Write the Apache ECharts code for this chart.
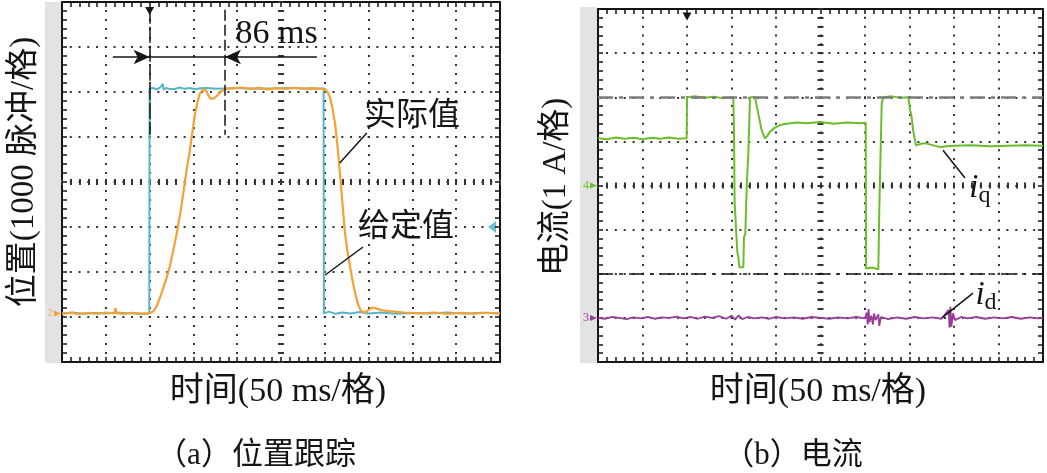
<!DOCTYPE html>
<html><head><meta charset="utf-8">
<script src="https://cdn.jsdelivr.net/npm/echarts@6/dist/echarts.min.js"></script>
<style>html,body{margin:0;padding:0;background:#fff}#c{width:1047px;height:473px}</style>
</head><body><div id="c"></div>
<script>
// ---- data (read from the oscilloscope screens) ----
const timeRange = [0, 500];          // ms, 50 ms/div, 10 div
const posRange = [-4000, 4000];      // pulses relative to screen centre, 1000 pulses/div
const curRange = [-4, 4];            // A, 1 A/div

// (a) position tracking: [time ms, position pulses]
const setpointA = [[0,-2920],[12,-2900],[25,-2930],[38,-2910],[50,-2925],[62,-2900],[75,-2915],[88,-2930],[99.6,-2920],
  [100,2080],[104,2090],[108,2060],[112,2100],[115,2180],[116,2050],[119,2090],[122,2070],[128,2060],[134,2100],[140,2070],
  [146,2090],[152,2060],[158,2085],[166,2090],[176,2070],[186,2080],[200,2090],[220,2070],[240,2080],[260,2090],[280,2070],[298.6,2080],
  [299,-2920],[305,-2880],[312,-2930],[320,-2900],[330,-2920],[340,-2890],[350,-2920],[365,-2900],[380,-2930],[400,-2910],
  [420,-2920],[440,-2900],[460,-2925],[480,-2905],[500,-2920]];
const actualA = [[0,-2930],[10,-2910],[20,-2935],[30,-2905],[40,-2925],[50,-2900],[60,-2920],[61,-2800],[62,-2915],[70,-2930],
  [80,-2905],[90,-2925],[99,-2920],[100,-2900],[104,-2880],[108,-2770],[112,-2560],[116,-2330],[120,-2090],[123,-1880],
  [127,-1520],[131,-1140],[135,-700],[138.5,-250],[142,230],[146,710],[149,1130],[152,1530],[155,1800],[157.5,1970],
  [161,2060],[163,2080],[165,2020],[167,1930],[169,1860],[171,1840],[173,1850],[176,1900],[180,1980],[183,2030],[186,2070],
  [195,2080],[205,2100],[215,2070],[225,2090],[235,2060],[245,2085],[255,2070],[265,2095],[275,2075],[285,2085],[295,2070],
  [300,2070],[303,2000],[306,1880],[309,1620],[312,1260],[315,700],[319,-200],[323,-1130],[326,-1560],[329,-1900],
  [332,-2230],[335,-2500],[338,-2720],[341,-2860],[344,-2900],[347,-2880],[351,-2830],[355,-2790],[360,-2820],[366,-2850],
  [372,-2870],[380,-2880],[390,-2900],[400,-2910],[412,-2920],[425,-2900],[440,-2930],[455,-2910],[470,-2925],[485,-2905],[500,-2920]];
const cursorTimesA = [100, 186];     // 86 ms rise-time cursors
const triggerTime = 100;
const triggerLevelA = -1000;

// (b) currents: [time ms, A]
const iqB = [[0,1.07],[10,1.05],[20,1.09],[30,1.06],[40,1.08],[50,1.05],[60,1.08],[70,1.06],[80,1.09],[90,1.06],[99.6,1.07],
  [100,2.0],[110,2.02],[120,1.99],[130,2.01],[140,1.98],[152,2.0],
  [152.8,1.2],[153.5,-0.37],[155,-0.4],[156.5,-1.51],[157.5,-1.6],[158.8,-1.85],[163.3,-1.85],[164,-1.17],[165.5,-1.1],
  [167.1,-0.03],[168.9,0.73],[170.8,2.0],[176.4,2.0],[180.1,1.63],[183.9,1.25],[187.6,1.07],[190,1.12],[193.3,1.22],
  [198,1.3],[204.5,1.37],[212,1.4],[223,1.43],[235,1.41],[250,1.44],[265,1.4],[280,1.43],[295,1.41],[300.8,1.42],
  [301.2,-1.88],[308,-1.86],[315,-1.9],[316.1,-0.49],[318.8,1.87],[320.6,2.0],[330,2.02],[340,1.99],[348.7,2.0],
  [350.6,1.71],[352,1.6],[354.3,1.22],[357.3,0.91],[362,0.94],[367.4,0.96],[375,0.92],[384.3,0.87],[392,0.89],[400,0.9],
  [420,0.91],[440,0.89],[460,0.9],[480,0.91],[500,0.9]];
const idB = [[0,0],[8,-0.02],[16,0.02],[24,0],[32,-0.03],[40,0.01],[48,-0.01],[56,0.02],[64,-0.02],[72,0.01],[80,0],[88,0.03],
  [96,-0.01],[104,0.02],[112,-0.02],[120,0.03],[128,0],[136,0.04],[144,-0.02],[150,0.05],[154,-0.04],[158,0.06],[162,-0.03],
  [168,0.02],[176,-0.01],[184,0.01],[192,-0.02],[200,0.02],[210,-0.01],[220,0.01],[230,-0.02],[240,0.02],[250,0],[260,-0.02],
  [270,0.01],[280,-0.01],[290,0.02],[300,-0.01],[302,0.12],[303,-0.15],[304,0.2],[305,-0.1],[307,0.05],[309,-0.15],[310,0.1],
  [312,-0.05],[315,0.08],[316,-0.18],[318,0.02],[326,-0.03],[336,0.01],[346,-0.02],[356,0.02],[366,-0.01],[376,0.01],
  [386,-0.02],[394,0.18],[395,-0.22],[396,0.25],[397,-0.2],[399,0.1],[401,-0.05],[408,0.02],[415,-0.01],[425,0.02],
  [435,-0.02],[445,0.01],[455,-0.01],[465,0.02],[475,-0.02],[485,0.01],[495,-0.01],[500,0]];
const idOffset = -3;                 // channel 3 ground, div below centre
const cursorLevelsB = [2, -2];       // A

// ---- layout / style ----
const FONT = "'Liberation Serif','Noto Sans CJK SC',serif";
const gA = {left:62, top:2, width:438, height:360};
const gB = {left:598, top:9, width:445, height:353};
const INK = '#151515';

function axesFor(dim, gi, g, range, interval) {
  const isX = dim === 'x';
  const span = isX ? g.height : g.width;
  const minor = span / (isX ? 40 : 50);
  const base = {type:'value', gridIndex:gi, min:range[0], max:range[1], interval,
    axisLabel:{show:false}, splitLine:{show:false}, axisLine:{show:false,onZero:false},
    axisTick:{show:false}, minorTick:{show:false}, silent:true};
  const tickStyle = {color:INK, width:1.5};
  const border = (pos, split) => Object.assign({}, base, {position:pos,
    axisLine:{show:true,onZero:false,lineStyle:{color:INK,width:2}},
    axisTick:{show:true,inside:true,length:5,lineStyle:tickStyle},
    minorTick:{show:true,splitNumber:5,length:5,lineStyle:tickStyle},
    splitLine:{show:split,lineStyle:{color:'#333',width:2,type:[2,minor-2],dashOffset:1}}});
  const mid = (inside) => Object.assign({}, base, {position:isX?'bottom':'left',
    offset: isX ? -g.height/2 : -g.width/2,
    axisTick:{show:true,inside,length:3,lineStyle:{color:'#333',width:2}},
    minorTick:{show:true,splitNumber:5,length:3,lineStyle:{color:'#333',width:2}}});
  return [border(isX?'bottom':'left', true), border(isX?'top':'right', false), mid(true), mid(false)];
}

const xAxis = [...axesFor('x',0,gA,timeRange,50), ...axesFor('x',1,gB,timeRange,50)];
const yAxis = [...axesFor('y',0,gA,posRange,1000), ...axesFor('y',1,gB,curRange,1)];

const lblStyle = (txt, size) => ({show:true, position:'inside', formatter:txt, fontSize:size||32,
  color:INK, fontFamily:FONT});
const blank = {symbol:'circle', symbolSize:1, itemStyle:{color:'rgba(0,0,0,0)'}};
const leader = (a, b) => [{coord:a}, {coord:b}];
const subRich = {i:{fontSize:33, fontStyle:'italic', fontFamily:FONT, color:INK, verticalAlign:'top', lineHeight:36},
                 s:{fontSize:24, fontFamily:FONT, color:INK, verticalAlign:'bottom', lineHeight:24, padding:[10,0,0,0]}};

const option = {
  animation:false,
  backgroundColor:'#fff',
  grid:[Object.assign({containLabel:false}, gA), Object.assign({containLabel:false}, gB)],
  xAxis, yAxis,
  series:[
    {name:'给定值', type:'line', xAxisIndex:0, yAxisIndex:0, data:setpointA, symbol:'none',
     lineStyle:{color:'#56b6c8', width:2}, z:3, silent:true},
    {name:'实际值', type:'line', xAxisIndex:0, yAxisIndex:0, data:actualA, symbol:'none',
     lineStyle:{color:'#f3a234', width:2.2}, z:4, silent:true,
     markLine:{silent:true, symbol:'none', animation:false, label:{show:false},
       lineStyle:{color:INK, width:1.5, type:'solid'},
       data:[
         [{coord:[cursorTimesA[0],3870], lineStyle:{type:[16,3],color:INK,width:1.5}}, {coord:[cursorTimesA[0],1050]}],
         [{coord:[cursorTimesA[1],3830], lineStyle:{type:[11,4],color:INK,width:1.5}}, {coord:[cursorTimesA[1],1050]}],
         [{coord:[58,2778], symbol:'none'}, {coord:[cursorTimesA[0],2778], symbol:'arrow', symbolSize:[11,16]}],
         [{coord:[291,2778], symbol:'none'}, {coord:[cursorTimesA[1],2778], symbol:'arrow', symbolSize:[11,16]}],
         [{coord:[cursorTimesA[0],2778]}, {coord:[cursorTimesA[1],2778]}],
         leader([348,1090],[317,420]),
         leader([343.6,-1444],[300.5,-2067])
       ]},
     markPoint:{silent:true, animation:false, data:[
       Object.assign({coord:[245,3290], label:lblStyle('86 ms',34)}, blank),
       Object.assign({coord:[399.5,1444], label:lblStyle('实际值',32)}, blank),
       Object.assign({coord:[392.7,-1022], label:lblStyle('给定值',32)}, blank),
       {coord:[triggerTime,3800], symbol:'triangle', symbolRotate:180, symbolSize:[9,8], itemStyle:{color:INK}, label:{show:false}}
     ]}},
    {name:'iq', type:'line', xAxisIndex:4, yAxisIndex:4, data:iqB, symbol:'none',
     lineStyle:{color:'#6cbd2a', width:2}, z:4, silent:true,
     markLine:{silent:true, symbol:'none', animation:false, label:{show:false},
       data:[
         {yAxis:cursorLevelsB[0], lineStyle:{color:'#7d7d7d', width:2.5, type:[15,6,4,6]}},
         {yAxis:cursorLevelsB[1], lineStyle:{color:INK, width:1.5, type:[15,6,4,6]}},
         [{coord:[387.6,0.8], lineStyle:{color:INK,width:1.5,type:'solid'}}, {coord:[412.4,0.17]}],
         [{coord:[386.5,-3.0], lineStyle:{color:INK,width:1.5,type:'solid'}}, {coord:[421.3,-2.44]}]
       ]},
     markPoint:{silent:true, animation:false, data:[
       Object.assign({coord:[429,-0.1], label:{show:true, position:'inside', formatter:'{i|i}{s|q}', rich:subRich}}, blank),
       Object.assign({coord:[436,-2.52], label:{show:true, position:'inside', formatter:'{i|i}{s|d}', rich:subRich}}, blank),
       {coord:[triggerTime,3.83], symbol:'triangle', symbolRotate:180, symbolSize:[9,8], itemStyle:{color:INK}, label:{show:false}}
     ]}},
    {name:'id', type:'line', xAxisIndex:4, yAxisIndex:4, data:idB.map(p => [p[0], p[1] + idOffset]), symbol:'none',
     lineStyle:{color:'#9a3c9a', width:1.8}, z:3, silent:true}
  ]
};

const chart = echarts.init(document.getElementById('c'), null, {renderer:'canvas'});
chart.setOption(option);

// ---- decorations positioned through the axes ----
const pA = v => chart.convertToPixel({seriesIndex:0}, v);
const pB = v => chart.convertToPixel({seriesIndex:2}, v);
const txt = (text, x, y, size, rot) => ({type:'text', x, y, rotation:rot||0, silent:true,
  style:{text, fontSize:size, fontFamily:FONT, fill:INK, align:'center', verticalAlign:'middle'}});
const chA = pA([0, setpointA[0][1]]);
const trA = pA([timeRange[1], triggerLevelA]);
const ch4 = pB([0, 0]);
const ch3 = pB([0, idOffset]);
chart.setOption({graphic:[
  {type:'rect', shape:{x:gA.left-17, y:gA.top, width:16, height:gA.height+1}, style:{fill:'#e3e3e3'}, z:-1, silent:true},
  {type:'rect', shape:{x:gB.left-18, y:gB.top-2, width:17, height:gB.height+3}, style:{fill:'#e3e3e3'}, z:-1, silent:true},
  {type:'text', x:chA[0]-12, y:chA[1], silent:true, style:{text:'2', fontSize:11, fontFamily:FONT, fill:'#e8b070', align:'center', verticalAlign:'middle'}},
  {type:'polygon', shape:{points:[[chA[0]-8,chA[1]-3],[chA[0]-1,chA[1]],[chA[0]-8,chA[1]+3]]}, style:{fill:'#f3a234'}, silent:true},
  {type:'polygon', shape:{points:[[trA[0]-12,trA[1]],[trA[0]-4,trA[1]-6],[trA[0]-4,trA[1]+6]]}, style:{fill:'#6cc0d2'}, silent:true},
  {type:'text', x:ch4[0]-12, y:ch4[1], silent:true, style:{text:'4', fontSize:12, fontFamily:FONT, fill:'#6cbd2a', align:'center', verticalAlign:'middle'}},
  {type:'polygon', shape:{points:[[ch4[0]-8,ch4[1]-3],[ch4[0]-1,ch4[1]],[ch4[0]-8,ch4[1]+3]]}, style:{fill:'#6cbd2a'}, silent:true},
  {type:'text', x:ch3[0]-12, y:ch3[1], silent:true, style:{text:'3', fontSize:12, fontFamily:FONT, fill:'#9a3c9a', align:'center', verticalAlign:'middle'}},
  {type:'polygon', shape:{points:[[ch3[0]-8,ch3[1]-3],[ch3[0]-1,ch3[1]],[ch3[0]-8,ch3[1]+3]]}, style:{fill:'#9a3c9a'}, silent:true},
  txt('位置(1000 脉冲/格)', 24, 172, 33, Math.PI/2),
  txt('时间(50 ms/格)', 278, 392, 34),
  txt('（a）位置跟踪', 256, 456, 31),
  txt('电流(1 A/格)', 556, 187, 33, Math.PI/2),
  txt('时间(50 ms/格)', 818, 392, 34),
  txt('（b）电流', 793, 456, 31)
]});
</script></body></html>
